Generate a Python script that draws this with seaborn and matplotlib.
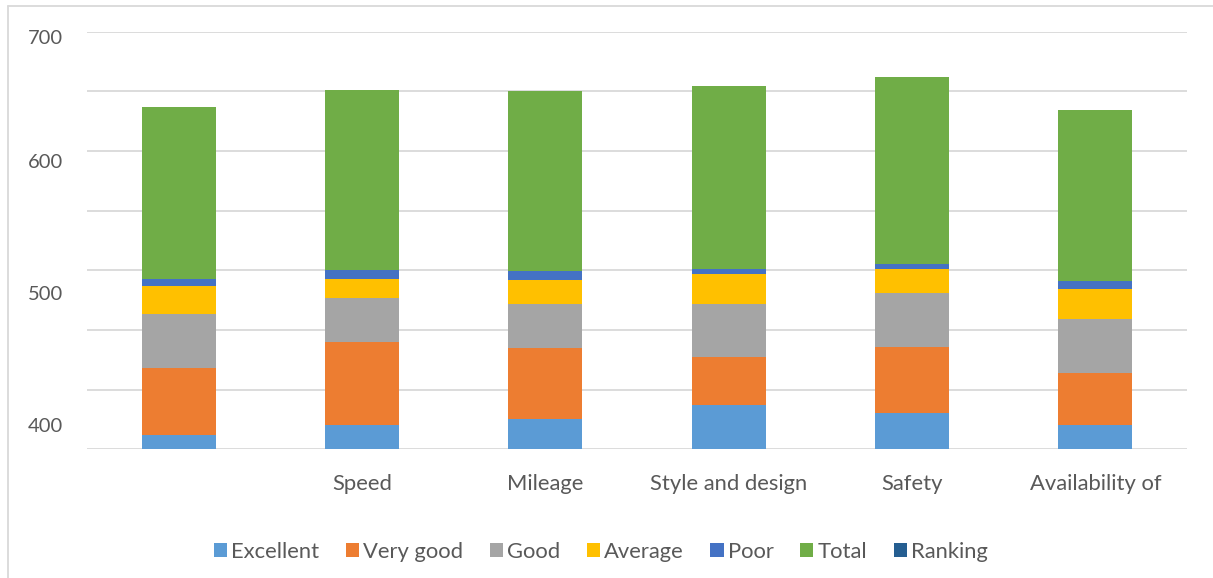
import numpy as np
import pandas as pd
import matplotlib
matplotlib.use("Agg")
import matplotlib.pyplot as plt
from matplotlib.lines import Line2D
from matplotlib.patches import Patch
import seaborn as sns

# Ratings per feature (stacked); the first bar has no category caption
categories = ["", "Speed", "Mileage", "Style and design", "Safety", "Availability of"]
excellent = [362, 370, 375, 387, 380, 370]
very_good = [56, 70, 60, 40, 56, 44]
good = [45, 37, 37, 45, 45, 45]
average = [24, 16, 20, 25, 20, 25]
poor = [6, 7, 7, 4, 4, 7]
total = [144, 151, 151, 153, 157, 143]
ranking = [0, 0, 0, 0, 0, 0]

series_names = ["Excellent", "Very good", "Good", "Average", "Poor", "Total", "Ranking"]
series_values = [excellent, very_good, good, average, poor, total, ranking]
colors = ["#5B9BD5", "#ED7D31", "#A5A5A5", "#FFC000", "#4472C4", "#70AD47", "#255E91"]

# y-axis gridlines and the (offset) tick captions
grid_values = np.arange(350, 701, 50)
tick_positions = [695.5, 591.5, 481, 370.5]
tick_labels = ["700", "600", "500", "400"]

sns.set_theme(style="white")
plt.rcParams["font.family"] = ["Lato", "DejaVu Sans"]
text_color = "#595959"
grid_color = "#D9D9D9"

fig = plt.figure(figsize=(12.13, 5.78), dpi=100)
ax = fig.add_axes([87 / 1213, 1 - 449.3 / 578, 1100 / 1213, (449.3 - 31.5) / 578])

df = pd.DataFrame({"pos": np.arange(len(categories))})
cum = np.zeros(len(categories))
layers = []
for name, vals in zip(series_names, series_values):
    cum = cum + np.array(vals, dtype=float)
    layers.append((name, cum.copy()))

# draw from the tallest cumulative layer down so each segment shows
for (name, top), color in reversed(list(zip(layers, colors))):
    d = df.copy()
    d["value"] = top
    sns.barplot(data=d, x="pos", y="value", color=color, width=0.404,
                saturation=1, ax=ax, zorder=3, linewidth=0)

ax.set_xlim(-0.5, len(categories) - 0.5)
ax.set_ylim(350, 700)
ax.set_xlabel("")
ax.set_ylabel("")
ax.set_xticks(np.arange(len(categories)))
ax.set_xticklabels(categories)
ax.set_yticks(tick_positions)
ax.set_yticklabels(tick_labels)
ax.set_yticks(grid_values, minor=True)
ax.grid(False)
ax.grid(True, which="minor", axis="y", color=grid_color, linewidth=1.3, zorder=0)
ax.tick_params(axis="both", which="both", length=0, colors=text_color)
ax.tick_params(axis="y", pad=17, labelsize=14.5)
ax.tick_params(axis="x", pad=18, labelsize=15.8)
for s in ax.spines.values():
    s.set_visible(False)

handles = [Patch(facecolor=c, edgecolor="none") for c in colors]
fig.legend(handles, series_names, loc="center", bbox_to_anchor=(601 / 1213, 1 - 552 / 578),
           ncol=7, frameon=False, fontsize=15.8, labelcolor=text_color,
           handlelength=0.6, handleheight=0.6, handletextpad=0.2, columnspacing=1.2)

# outer chart frame (top and left edges)
fig.add_artist(Line2D([8 / 1213, 1], [1 - 6 / 578, 1 - 6 / 578], transform=fig.transFigure,
                      color=grid_color, linewidth=1.3))
fig.add_artist(Line2D([8 / 1213, 8 / 1213], [0, 1 - 6 / 578], transform=fig.transFigure,
                      color=grid_color, linewidth=1.3))

fig.savefig("out.png", dpi=100, facecolor="white")
